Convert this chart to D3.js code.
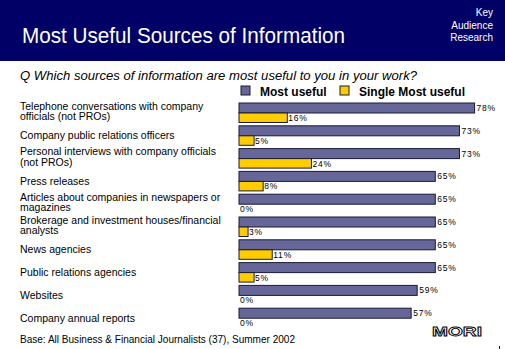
<!DOCTYPE html>
<html>
<head>
<meta charset="utf-8">
<script src="https://cdn.jsdelivr.net/npm/d3@7"></script>
<style>
  html, body { margin: 0; padding: 0; background: #fff; }
  svg { display: block; font-family: "Liberation Sans", Arial, sans-serif; }
</style>
</head>
<body>
<svg id="chart" width="505" height="349"></svg>
<script>
const categories = [
  ["Telephone conversations with company", "officials (not PROs)"],
  ["Company public relations officers"],
  ["Personal interviews with company officials", "(not PROs)"],
  ["Press releases"],
  ["Articles about companies in newspapers or", "magazines"],
  ["Brokerage and investment houses/financial", "analysts"],
  ["News agencies"],
  ["Public relations agencies"],
  ["Websites"],
  ["Company annual reports"]
];
const mostUseful = [78, 73, 73, 65, 65, 65, 65, 65, 59, 57];
const singleMost = [16, 5, 24, 8, 0, 3, 11, 5, 0, 0];
const seriesNames = ["Most useful", "Single Most useful"];
const seriesColors = ["#666699", "#ffcc00"];

const svg = d3.select("#chart");
const W = 505, H = 349;

// header band
svg.append("rect").attr("x", 0).attr("y", 0).attr("width", W).attr("height", 61).attr("fill", "#000066");
svg.append("text")
  .attr("x", 22).attr("y", 43)
  .attr("fill", "#fff").attr("font-size", 22)
  .attr("textLength", 323).attr("lengthAdjust", "spacingAndGlyphs")
  .text("Most Useful Sources of Information");
["Key", "Audience", "Research"].forEach((t, i) => {
  svg.append("text")
    .attr("x", 493).attr("y", 16 + i * 12.5)
    .attr("text-anchor", "end")
    .attr("fill", "#fff").attr("font-size", 10)
    .text(t);
});

// question
svg.append("text")
  .attr("x", 20).attr("y", 80)
  .attr("font-size", 12).attr("font-style", "italic")
  .attr("textLength", 397).attr("lengthAdjust", "spacingAndGlyphs")
  .text("Q  Which sources of information are most useful to you in your work?");

// legend
const legendX = [241, 340];
seriesNames.forEach((name, i) => {
  svg.append("rect")
    .attr("x", legendX[i]).attr("y", 86).attr("width", 9).attr("height", 9)
    .attr("fill", seriesColors[i]).attr("stroke", "#1a1a33");
  svg.append("text")
    .attr("x", legendX[i] + 19).attr("y", 96)
    .attr("font-size", 12).attr("font-weight", "bold")
    .text(name);
});

const x = d3.scaleLinear().domain([0, 100]).range([239, 541]);
const y = d3.scaleBand()
  .domain(d3.range(categories.length))
  .range([102.5, 102.5 + categories.length * 22.8]);

const rows = svg.append("g").selectAll("g")
  .data(categories.map((c, i) => ({ label: c, a: mostUseful[i], b: singleMost[i] })))
  .join("g")
  .attr("transform", (d, i) => `translate(0,${y(i)})`);

// category labels
rows.each(function(d) {
  const g = d3.select(this);
  const centre = 10;
  const offs = d.label.length === 1 ? [4] : [-3, 7.5];
  d.label.forEach((line, j) => {
    g.append("text")
      .attr("x", 20).attr("y", centre + offs[j])
      .attr("font-size", 10.5)
      .text(line);
  });
});

rows.append("rect")
  .attr("x", x(0)).attr("y", 0.5)
  .attr("width", d => x(d.a) - x(0)).attr("height", 10)
  .attr("fill", seriesColors[0]).attr("stroke", "#1a1a33");

rows.filter(d => d.b > 0).append("rect")
  .attr("x", x(0)).attr("y", 10.5)
  .attr("width", d => x(d.b) - x(0)).attr("height", 9.5)
  .attr("fill", seriesColors[1]).attr("stroke", "#1a1a33");

rows.append("text")
  .attr("x", d => x(d.a) + 2).attr("y", 8.5)
  .attr("font-size", 8.5).attr("letter-spacing", 0.8)
  .text(d => d.a + "%");

rows.append("text")
  .attr("x", d => x(d.b) + 1).attr("y", 18.5)
  .attr("font-size", 8.5).attr("letter-spacing", 0.8)
  .text(d => d.b + "%");

// footer
svg.append("text")
  .attr("x", 20).attr("y", 343)
  .attr("font-size", 10.5)
  .attr("textLength", 275).attr("lengthAdjust", "spacingAndGlyphs")
  .text("Base: All Business & Financial Journalists (37), Summer 2002");

svg.append("text")
  .attr("x", 432).attr("y", 336)
  .attr("font-size", 13).attr("font-weight", "bold")
  .attr("fill", "#fff").attr("stroke", "#000").attr("stroke-width", 0.8)
  .attr("textLength", 50).attr("lengthAdjust", "spacingAndGlyphs")
  .text("MORI");
svg.append("rect").attr("x", 499).attr("y", 346).attr("width", 1).attr("height", 3).attr("fill", "#000");
</script>
</body>
</html>
